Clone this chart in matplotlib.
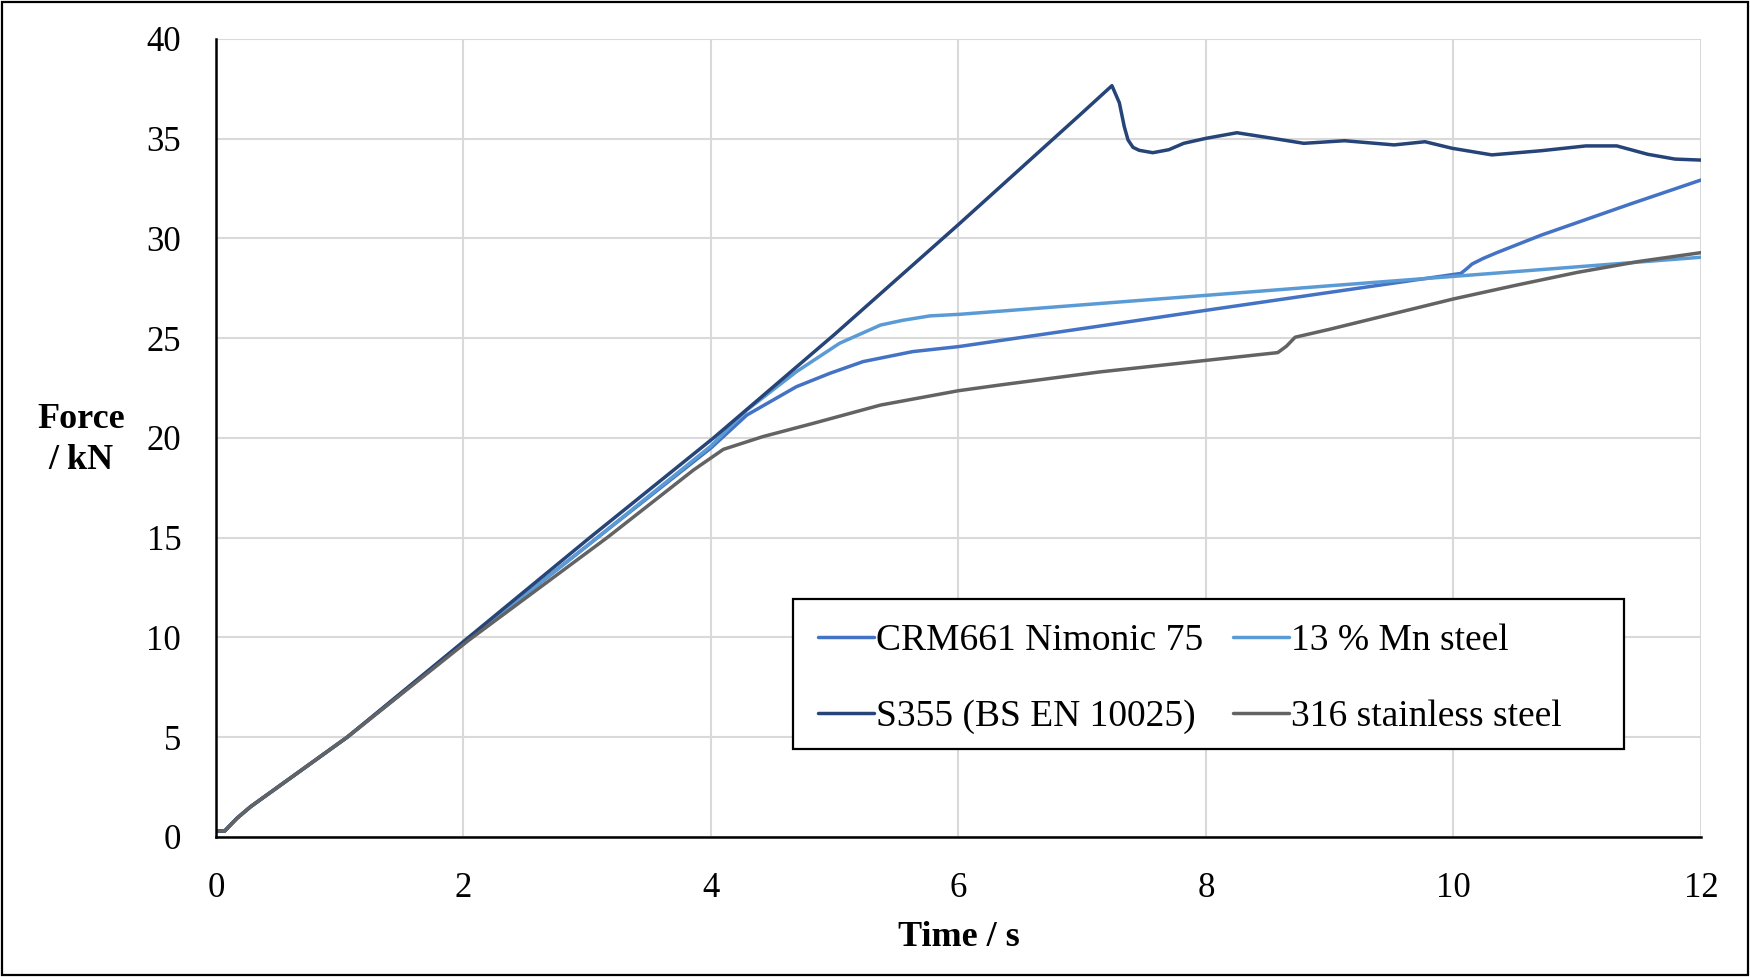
import numpy as np
import matplotlib
matplotlib.use("Agg")
import matplotlib.pyplot as plt
from matplotlib.patches import Rectangle

plt.rcParams["font.family"] = ["Liberation Serif", "DejaVu Serif"]

# ---- digitised force / time traces -------------------------------------------
crm_t = [0, 0.07, 0.17, 0.28, 1.06, 2.04, 3.0, 4.0, 4.29, 4.69, 4.96, 5.23, 5.63,
         6.0, 7.14, 8.0, 9.0, 10.06, 10.11, 10.15, 10.24, 10.35, 10.71, 11.43, 12.0]
crm_f = [0.3, 0.3, 0.94, 1.52, 5.0, 9.9, 14.6, 19.5, 21.15, 22.57, 23.24, 23.83, 24.33,
         24.58, 25.61, 26.4, 27.3, 28.25, 28.5, 28.72, 29.0, 29.29, 30.17, 31.73, 32.93]

mn_t = [0, 0.07, 0.17, 0.28, 1.06, 2.04, 3.0, 4.0, 4.29, 4.69, 5.04, 5.37, 5.55,
        5.77, 6.01, 7.14, 8.0, 9.0, 10.0, 11.0, 12.0]
mn_f = [0.3, 0.3, 0.94, 1.52, 5.0, 9.9, 14.6, 19.6, 21.4, 23.32, 24.75, 25.66, 25.9,
        26.12, 26.2, 26.74, 27.15, 27.63, 28.1, 28.58, 29.06]

s355_t = [0, 0.07, 0.17, 0.28, 1.06, 2.04, 3.02, 4.02, 5.0, 6.0, 7.0, 7.24, 7.30,
          7.34, 7.37, 7.41, 7.46, 7.57, 7.7, 7.82, 8.0, 8.25, 8.54, 8.79, 9.12,
          9.52, 9.77, 9.99, 10.31, 10.71, 11.07, 11.32, 11.57, 11.79, 12.0]
s355_f = [0.3, 0.3, 0.94, 1.52, 5.0, 10.0, 15.0, 20.0, 25.2, 30.7, 36.3, 37.66, 36.8,
          35.6, 34.94, 34.57, 34.42, 34.30, 34.45, 34.77, 35.02, 35.3, 35.02, 34.77, 34.9,
          34.69, 34.85, 34.52, 34.19, 34.4, 34.64, 34.64, 34.22, 33.98, 33.93]

ss_t = [0, 0.07, 0.17, 0.28, 1.06, 2.04, 3.16, 3.86, 4.1, 4.42, 4.83, 5.37, 6.0,
        6.34, 7.14, 8.0, 8.58, 8.65, 8.72, 9.0, 10.0, 10.5, 11.0, 11.5, 12.0]
ss_f = [0.3, 0.3, 0.94, 1.52, 5.0, 9.85, 15.0, 18.4, 19.43, 20.07, 20.74, 21.65, 22.37,
        22.66, 23.31, 23.89, 24.28, 24.6, 25.05, 25.45, 26.97, 27.65, 28.3, 28.85, 29.29]

labels = ["CRM661 Nimonic 75", "13 % Mn steel", "S355 (BS EN 10025)", "316 stainless steel"]
colors = ["#4472C4", "#5B9BD5", "#264478", "#636363"]

x_ticks = [0, 2, 4, 6, 8, 10, 12]
y_ticks = [0, 5, 10, 15, 20, 25, 30, 35, 40]

# ---- figure ------------------------------------------------------------------
fig = plt.figure(figsize=(17.5, 9.77), dpi=100)
ax = fig.add_axes([0.1234, 0.1433, 0.8486, 0.8168])

series = [(crm_t, crm_f), (mn_t, mn_f), (s355_t, s355_f), (ss_t, ss_f)]
lines = []
for (t, f), lab, col in zip(series, labels, colors):
    ln, = ax.plot(t, f, color=col, lw=2.5, label=lab,
                  solid_joinstyle="round", solid_capstyle="round")
    lines.append(ln)

ax.set_xlim(0, 12)
ax.set_ylim(0, 40)
ax.set_xticks(x_ticks)
ax.set_yticks(y_ticks)
ax.grid(True, color="#D9D9D9", lw=1.5)
ax.set_axisbelow(True)
for side in ("top", "right"):
    ax.spines[side].set_visible(False)
for side in ("left", "bottom"):
    ax.spines[side].set_linewidth(1.8)
    ax.spines[side].set_color("black")
ax.tick_params(axis="both", length=0, labelsize=25)
ax.tick_params(axis="x", pad=25)
ax.tick_params(axis="y", pad=25)

ax.set_xlabel("Time / s", fontsize=26, fontweight="bold")
ax.xaxis.set_label_coords(0.5, -0.105)
ax.set_ylabel("Force\n/ kN", fontsize=26, fontweight="bold", rotation=0,
              ha="center", va="center", linespacing=1.3)
ax.yaxis.set_label_coords(-0.091, 0.4975)

# legend box drawn by hand so it can be wider than its entries
ax.add_patch(Rectangle((0.3886, 0.110), 0.5594, 0.188, transform=ax.transAxes,
                       facecolor="white", edgecolor="black", lw=1.6, zorder=4))

# legend: two columns, row order CRM661 / 13 % Mn, S355 / 316
order = [0, 2, 1, 3]
leg = ax.legend([lines[i] for i in order], [labels[i] for i in order],
                ncol=2, loc="upper left", bbox_to_anchor=(0.3886, 0.298),
                fontsize=27, frameon=False, handlelength=1.5, handletextpad=0.05,
                columnspacing=0.8, labelspacing=1.1, borderpad=0.66,
                borderaxespad=0)
leg.set_zorder(5)

# outer frame round the whole chart
fig.patches.append(Rectangle((0.001, 0.002), 0.998, 0.996, transform=fig.transFigure,
                             fill=False, edgecolor="black", lw=1.6))

fig.savefig("out.png", dpi=100, facecolor="white")
